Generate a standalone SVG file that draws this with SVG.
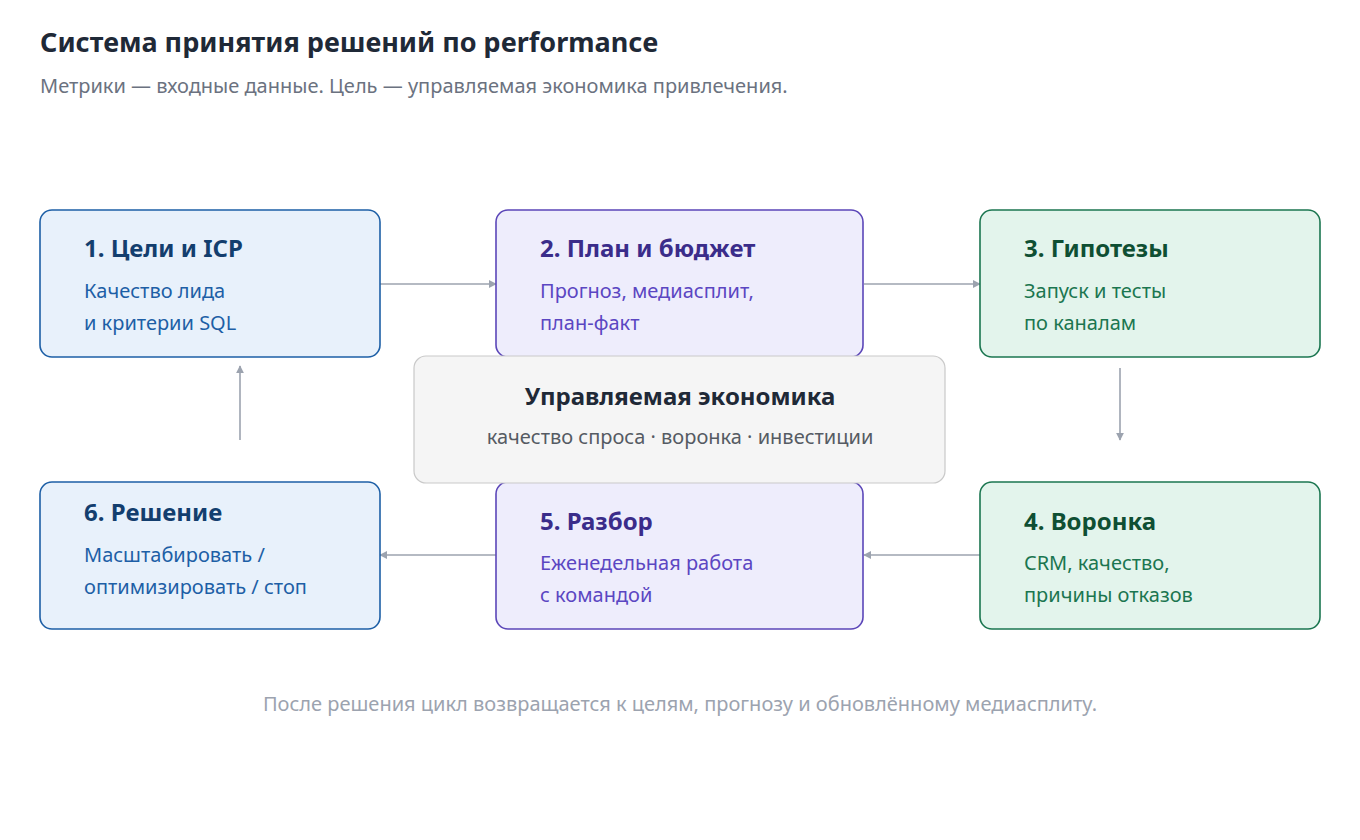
<svg xmlns="http://www.w3.org/2000/svg" width="1360" height="840" viewBox="0 0 1360 840">
<style>
text{font-family:"Segoe UI","Noto Sans","Open Sans",sans-serif}
.h{font-size:24px;font-weight:700}
.s{font-size:20px}
.blue rect{fill:#e8f1fb;stroke:#1d5fa6;stroke-width:1.6}
.blue .h{fill:#133e6e}.blue .s{fill:#1d5fa6}
.pur rect{fill:#eeedfc;stroke:#5b46b8;stroke-width:1.6}
.pur .h{fill:#3a2c8a}.pur .s{fill:#5b46c2}
.grn rect{fill:#e3f4ec;stroke:#1b7650;stroke-width:1.6}
.grn .h{fill:#0f4f33}.grn .s{fill:#1b7650}
.c line{stroke:#9ca3af;stroke-width:1.6;marker-end:url(#a)}
</style>
<defs><marker id="a" viewBox="0 0 10 10" refX="9" refY="5" markerWidth="8" markerHeight="8" markerUnits="userSpaceOnUse" orient="auto"><path d="M0,0L10,5L0,10z" fill="#9ca3af"/></marker></defs>
<rect width="1360" height="840" fill="#fff"/>
<text x="40" y="52" font-size="27" font-weight="700" fill="#1f2937">Система принятия решений по performance</text>
<text x="40" y="93" font-size="20" fill="#6b7280">Метрики — входные данные. Цель — управляемая экономика привлечения.</text>
<g class="c" id="connectors">
<line x1="380" y1="284" x2="496" y2="284"/>
<line x1="864" y1="284" x2="980" y2="284"/>
<line x1="1120" y1="368" x2="1120" y2="440"/>
<line x1="980" y1="555" x2="864" y2="555"/>
<line x1="496" y1="555" x2="380" y2="555"/>
<line x1="240" y1="440" x2="240" y2="366"/>
</g>
<g id="n1" class="blue"><rect x="40" y="210" width="340" height="147" rx="12"/><text class="h" x="84" y="257">1. Цели и ICP</text><text class="s" x="84" y="298">Качество лида</text><text class="s" x="84" y="330">и критерии SQL</text></g>
<g id="n2" class="pur"><rect x="496" y="210" width="367" height="147" rx="12"/><text class="h" x="540" y="257">2. План и бюджет</text><text class="s" x="540" y="298">Прогноз, медиасплит,</text><text class="s" x="540" y="330">план-факт</text></g>
<g id="n3" class="grn"><rect x="980" y="210" width="340" height="147" rx="12"/><text class="h" x="1024" y="257">3. Гипотезы</text><text class="s" x="1024" y="298">Запуск и тесты</text><text class="s" x="1024" y="330">по каналам</text></g>
<g id="n4" class="grn"><rect x="980" y="482" width="340" height="147" rx="12"/><text class="h" x="1024" y="530">4. Воронка</text><text class="s" x="1024" y="570">CRM, качество,</text><text class="s" x="1024" y="602">причины отказов</text></g>
<g id="n5" class="pur"><rect x="496" y="482" width="367" height="147" rx="12"/><text class="h" x="540" y="530">5. Разбор</text><text class="s" x="540" y="570">Еженедельная работа</text><text class="s" x="540" y="602">с командой</text></g>
<g id="n6" class="blue"><rect x="40" y="482" width="340" height="147" rx="12"/><text class="h" x="84" y="521">6. Решение</text><text class="s" x="84" y="562">Масштабировать /</text><text class="s" x="84" y="594">оптимизировать / стоп</text></g>
<g id="center"><rect x="414" y="356" width="531" height="127" rx="12" fill="#f5f5f5" stroke="#c9c9c9" stroke-width="1.2"/><text x="680" y="405" text-anchor="middle" font-size="24" font-weight="700" fill="#1f2937">Управляемая экономика</text><text x="680" y="444" text-anchor="middle" font-size="20" fill="#555b63">качество спроса · воронка · инвестиции</text></g>
<text x="680" y="711" text-anchor="middle" font-size="20" fill="#9ca3af">После решения цикл возвращается к целям, прогнозу и обновлённому медиасплиту.</text>
</svg>
